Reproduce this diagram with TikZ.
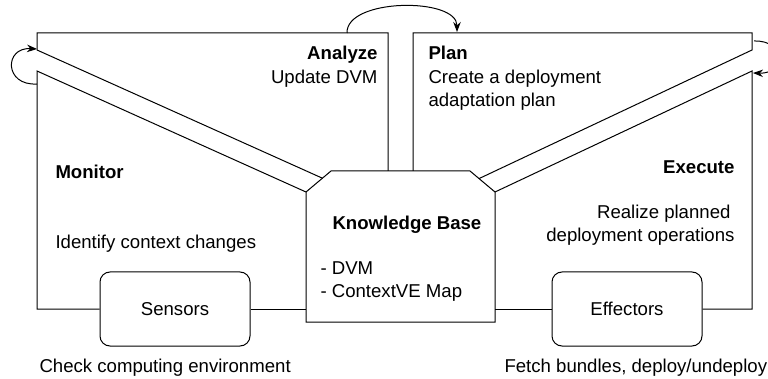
\documentclass[tikz,border=0pt]{standalone}
\usepackage{fontspec}
\setmainfont{Liberation Sans}
\usetikzlibrary{arrows.meta}
\begin{document}
\begin{tikzpicture}[x=1pt,y=-1pt,line width=1pt,
  lbl/.style={inner sep=0pt,font=\fontsize{18.6}{23}\selectfont},
  hd/.style={inner sep=0pt,font=\fontsize{18.6}{23}\selectfont\bfseries},
  device/.style={draw,rounded corners=10pt,minimum width=150pt,minimum height=74pt,
    inner sep=0pt,font=\fontsize{18.6}{23}\selectfont},
  cycle arrow/.style={-{Stealth[length=10pt,width=7.5pt]},line width=1pt}]
\useasboundingbox (0,0) rectangle (768,379);
\clip (0,0) rectangle (768,379);

% knowledge base (octagon-topped box)
\coordinate (kbTL) at (331,171);
\coordinate (kbTR) at (470,171);
\coordinate (kbR)  at (495,192);
\coordinate (kbBR) at (495,322);
\coordinate (kbBL) at (306,322);
\coordinate (kbL)  at (306,192);
\draw (kbL) -- (kbTL) -- (kbTR) -- (kbR) -- (kbBR) -- (kbBL) -- cycle;

% sensors and effectors
\node[device] (sensors)   at (175,309) {Sensors};
\node[device] (effectors) at (627,309) {Effectors};

% Monitor / Analyze region with its arm into the knowledge base
\coordinate (monUp)  at (37,50);
\coordinate (monLow) at (37,71);
\coordinate (monArmEnd) at (322.4,178.2);
\coordinate (anaFoot) at (388,171);
\coordinate (monFoot) at (37,309);
\draw (monArmEnd) -- (monUp) -- (37,33) -- (388,33) -- (anaFoot);
\draw (kbL) -- (monLow) -- (monFoot) -- (sensors.west);

% Plan / Execute region with its arm into the knowledge base
\coordinate (plaFoot) at (413,171);
\coordinate (exeUp)  at (752,50);
\coordinate (exeLow) at (752,71);
\coordinate (exeArmEnd) at (479,178.6);
\coordinate (exeFoot) at (752,309);
\draw (plaFoot) -- (413,33) -- (752,33) -- (exeUp) -- (exeArmEnd);
\draw (kbR) -- (exeLow) -- (exeFoot) -- (effectors.east);

% links from the devices into the knowledge base
\coordinate (kbSensIn) at (306,309);
\coordinate (kbEffIn)  at (495,309);
\draw (sensors.east) -- (kbSensIn);
\draw (effectors.west) -- (kbEffIn);

% cycle arrows
\coordinate (mS) at (37,84);
\coordinate (mE) at (37,49);
\draw[cycle arrow] (mS) .. controls (4,86) and (4,47) .. (mE);
\coordinate (aS) at (347,33);
\coordinate (pE) at (457,32);
\draw[cycle arrow] (aS) .. controls (346,-2) and (457,-3) .. (pE);
\coordinate (pS) at (754,41);
\coordinate (eE) at (753,73);
\draw[cycle arrow] (pS) .. controls (786,40) and (786,74) .. (eE);

% labels
\node[hd,anchor=base east]  (anaT) at (378,60) {Analyze};
\node[lbl,anchor=base east] (anaD) at (378,84) {Update DVM};
\node[hd,anchor=base west]  (plaT) at (428,60) {Plan};
\node[lbl,anchor=base west] (plaD1) at (428,84) {Create a deployment};
\node[lbl,anchor=base west] (plaD2) at (428,107) {adaptation plan};
\node[hd,anchor=base west]  (monT) at (55,179) {Monitor};
\node[lbl,anchor=base west] (monD) at (55,249) {Identify context changes};
\node[hd,anchor=base east]  (exeT) at (735,174) {Execute};
\node[lbl,anchor=base east] (exeD1) at (731,219) {Realize planned};
\node[lbl,anchor=base east] (exeD2) at (735,242) {deployment operations};
\node[hd,anchor=base west]  (kbT) at (332,230) {Knowledge Base};
\node[lbl,anchor=base west] (kbD1) at (320,275) {- DVM};
\node[lbl,anchor=base west] (kbD2) at (320,298) {- ContextVE Map};
\node[lbl,anchor=base west] (sensD) at (39,372) {Check computing environment};
\node[lbl,anchor=base west] (effD) at (504,372) {Fetch bundles, deploy/undeploy};
\end{tikzpicture}
\end{document}
